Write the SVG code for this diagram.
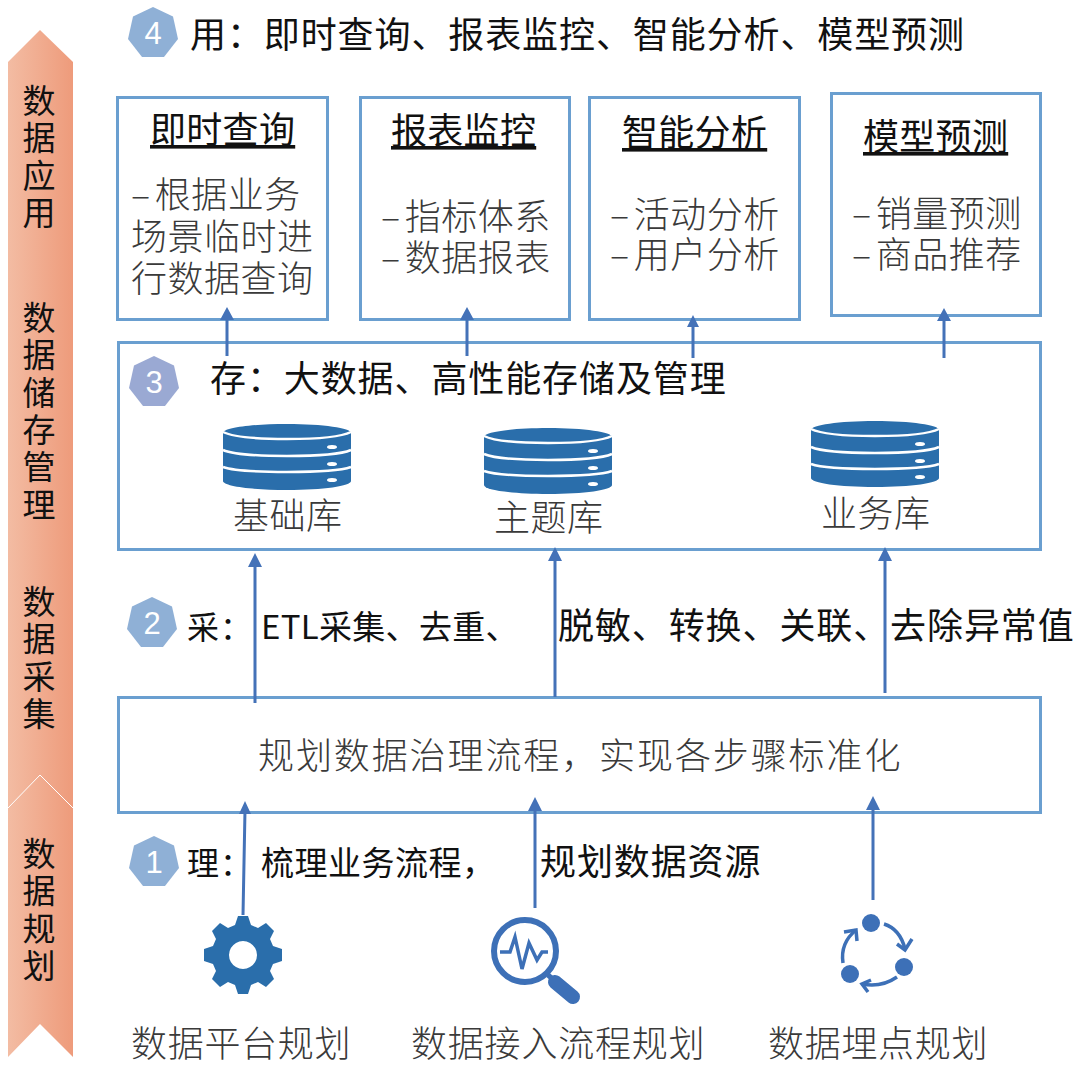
<svg xmlns="http://www.w3.org/2000/svg" width="1079" height="1074" viewBox="0 0 1079 1074">
<style>
text{font-family:"Noto Sans CJK SC","Noto Sans",sans-serif;fill:#3a3a3a;font-size:36px;font-weight:300}
.h{fill:#111;font-weight:400;letter-spacing:.9px}
.t{fill:#111;font-weight:400;letter-spacing:.3px;text-decoration:underline;text-underline-offset:5px}
.b{letter-spacing:.5px}
.v{fill:#111;font-weight:400;font-size:33px;writing-mode:vertical-rl;letter-spacing:4.300px}
.n{fill:#fff;font-family:"Liberation Sans",sans-serif;font-size:31px;font-weight:400;text-anchor:middle}
.box{fill:#fff;stroke:#6a9fd0;stroke-width:3}
.d{fill:#2a6eab}
.w{fill:none;stroke:#fff;stroke-width:2.500}
</style>
<defs>
<linearGradient id="g"><stop offset="0" stop-color="#f3bca3"/><stop offset="1" stop-color="#ee9b7b"/></linearGradient>
<symbol id="db" width="128" height="66" viewBox="0 0 128 66" overflow="visible">
<path class="d" d="M0 9C0 4 28 0 64 0s64 4 64 9v48c0 5-28 9-64 9S0 62 0 57Z"/>
<path class="w" d="M0 8Q14 15 64 15T128 8M0 26Q14 32 64 32T128 26M0 43Q14 48 64 48T128 43"/>
<ellipse cx="109" cy="23" rx="5" ry="2" fill="#fff"/><ellipse cx="109" cy="40" rx="5" ry="2" fill="#fff"/><ellipse cx="109" cy="56" rx="5" ry="2" fill="#fff"/>
</symbol>
<symbol id="hept" width="52" height="52" viewBox="-26 -26 52 52" overflow="visible"><path d="M0-26L20-16.500 25 6 11 24H-11L-25 6-20-16.500Z"/></symbol>
</defs>

<g id="band">
<path d="M8 62L40 30 73 62V1057L40 1024 8 1057Z" fill="url(#g)"/>
<path d="M8 808L40 775 73 808" fill="none" stroke="#fff" stroke-width="1"/>
<text class="v" x="39" y="84">数据应用</text>
<text class="v" x="39" y="301">数据储存管理</text>
<text class="v" x="39" y="585">数据采集</text>
<text class="v" x="39" y="837">数据规划</text>
</g>

<g id="header4">
<use href="#hept" x="127" y="7" fill="#8fb0d6"/><text class="n" x="153" y="44">4</text>
<text class="h" x="190" y="48">用：即时查询、报表监控、智能分析、模型预测</text>
</g>

<g id="box-query"><rect class="box" x="117.500" y="97.500" width="210" height="222"/>
<text class="t" x="150" y="143">即时查询</text>
<text class="b"><tspan x="131" y="208">–</tspan><tspan dx="4">根据业务</tspan><tspan x="131" y="250">场景临时进</tspan><tspan x="131" y="292">行数据查询</tspan></text></g>
<g id="box-report"><rect class="box" x="360.500" y="97.500" width="209" height="222"/>
<text class="t" x="391" y="144">报表监控</text>
<text class="b"><tspan x="381" y="230">–</tspan><tspan dx="4">指标体系</tspan><tspan x="381" y="271">–</tspan><tspan dx="4">数据报表</tspan></text></g>
<g id="box-analysis"><rect class="box" x="589.500" y="97.500" width="210" height="222"/>
<text class="t" x="622" y="146">智能分析</text>
<text class="b"><tspan x="610" y="228">–</tspan><tspan dx="4">活动分析</tspan><tspan x="610" y="268">–</tspan><tspan dx="4">用户分析</tspan></text></g>
<g id="box-predict"><rect class="box" x="831.500" y="93.500" width="209" height="222"/>
<text class="t" x="863" y="150">模型预测</text>
<text class="b"><tspan x="852" y="227">–</tspan><tspan dx="4">销量预测</tspan><tspan x="852" y="268">–</tspan><tspan dx="4">商品推荐</tspan></text></g>

<g id="box-storage"><rect class="box" x="118.500" y="342.500" width="922" height="207"/>
<use href="#hept" x="128" y="356" fill="#9aa9d3"/><text class="n" x="154" y="393">3</text>
<text class="h" x="210" y="392">存：大数据、高性能存储及管理</text>
<use href="#db" x="223" y="424"/><text class="b" x="233" y="529">基础库</text>
<use href="#db" x="484" y="428"/><text class="b" x="494" y="531">主题库</text>
<use href="#db" x="811" y="421"/><text class="b" x="821" y="527">业务库</text></g>

<g id="header2">
<use href="#hept" x="126" y="597" fill="#8fb0d6"/><text class="n" x="152" y="634">2</text>
<text class="h" x="187" y="639" style="font-size:32px">采：</text>
<text class="h" x="261" y="639" style="font-size:33px;letter-spacing:.300px">ETL采集、去重、</text>
<text class="h" x="558" y="639">脱敏、转换、关联、去除异常值</text>
</g>

<g id="box-process"><rect class="box" x="118.500" y="697.500" width="922" height="115"/>
<text class="b" x="258" y="769" style="letter-spacing:1.900px">规划数据治理流程，实现各步骤标准化</text></g>

<g id="header1">
<use href="#hept" x="128" y="836" fill="#8fb0d6"/><text class="n" x="154" y="873">1</text>
<text class="h" x="187" y="875" style="font-size:32px">理：</text>
<text class="h" x="261" y="875" style="font-size:33px;letter-spacing:.500px">梳理业务流程，</text>
<text class="h" x="540" y="875">规划数据资源</text>
</g>

<g id="connectors" stroke="#4472b8" fill="#4472b8">
<g stroke-width="3" fill="none">
<path d="M227 356V318M467 356V318M693 358V326M944 358V318M255 703V565M555 697V560M885 693V560M243 915L245 810M535 908V810M873 900V807"/></g>
<g stroke="none">
<path d="M227 307l7 13h-14ZM467 307l7 13h-14ZM693 315l6 12h-12ZM944 308l7 13h-14ZM255 553l7 14h-14ZM555 547l7 14h-14ZM885 547l7 14h-14ZM245 801l6 13h-12ZM535 797l7 14h-14ZM873 796l7 14h-14Z"/></g>
</g>

<g id="node-platform">
<path class="d" fill-rule="evenodd" d="M238 916h10l3 9 7 3 8-5 8 8-4 8 3 7 9 3v12l-9 3-3 7 4 8-8 8-8-5-7 3-3 9h-10l-3-9-7-3-8 5-8-8 4-8-3-7-9-3v-12l9-3 3-7-4-8 8-8 8 5 7-3ZM243 941a14 14 0 1 0 .01 0Z"/>
<text class="b" x="131" y="1057" style="letter-spacing:.700px">数据平台规划</text>
</g>

<g id="node-access">
<circle cx="525" cy="951" r="31" fill="none" stroke="#3d70b7" stroke-width="6"/>
<path d="M500 952h10l5-15 7 32 7-26 8 17 5-8h6" fill="none" stroke="#3d70b7" stroke-width="3.500"/>
<path d="M548 975l8 7" fill="none" stroke="#3d70b7" stroke-width="5"/>
<path d="M555 982l18 15" fill="none" stroke="#3d70b7" stroke-width="14" stroke-linecap="round"/>
<text class="b" x="411" y="1057" style="letter-spacing:.800px">数据接入流程规划</text>
</g>

<g id="node-tracking" fill="#3d70b7">
<circle cx="871" cy="923" r="9"/><circle cx="904" cy="967" r="9"/><circle cx="850" cy="974" r="9"/>
<g fill="none" stroke="#3d70b7" stroke-width="3.500">
<path d="M884 924q16 5 21 25"/><path d="M897 944l8 6 7-11"/>
<path d="M897 977q-16 11-35 7"/><path d="M871 980l-9 4 6 8"/>
<path d="M843 963q-3-20 13-33"/><path d="M844 932l12-2 1 11"/>
</g>
<text class="b" x="768" y="1057" style="letter-spacing:.700px">数据埋点规划</text>
</g>
</svg>
